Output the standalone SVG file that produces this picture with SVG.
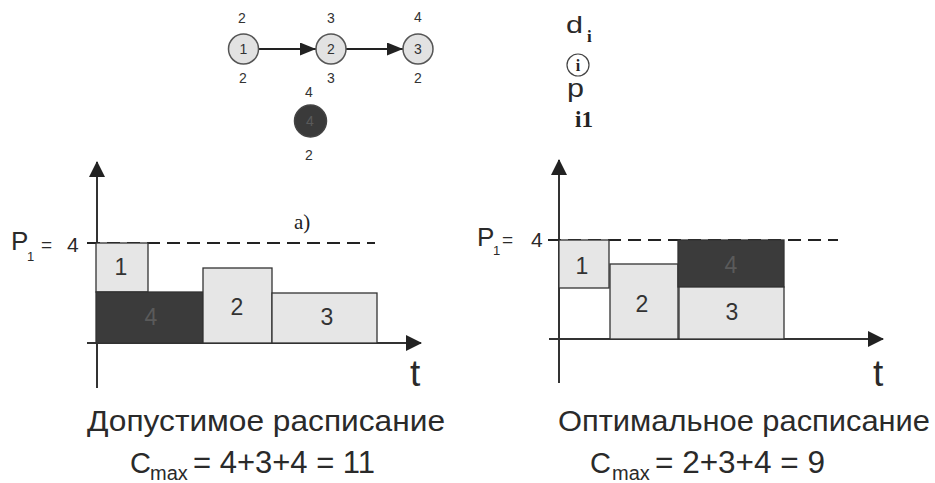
<svg xmlns="http://www.w3.org/2000/svg" width="935" height="483" viewBox="0 0 935 483">
<style>
  .t { font-family: "Liberation Sans", Arial, sans-serif; fill: #2a2a2a; }
  .lbl { font-family: "Liberation Sans", Arial, sans-serif; font-size: 14px; fill: #333; text-anchor: middle; }
  .nd { fill: #e2e2e2; stroke: #555; stroke-width: 1.5; }
  .nd-dark { fill: #3a3a3a; stroke: #444; stroke-width: 1.5; }
  .light { fill: #e6e6e6; stroke: #333; stroke-width: 1.3; }
  .dark { fill: #3b3b3b; stroke: #333; stroke-width: 1.3; }
  .axis { stroke: #333; stroke-width: 2; fill: none; }
  .dash { stroke: #222; stroke-width: 2; stroke-dasharray: 13 7; fill: none; }
  .blab { font-family: "Liberation Sans", Arial, sans-serif; font-size: 23px; fill: #333; text-anchor: middle; }
  .serif { font-family: "Liberation Serif", "Times New Roman", serif; fill: #222; }
</style>
<defs>
  <marker id="arr" markerWidth="16" markerHeight="13" refX="16" refY="6.5" orient="auto" markerUnits="userSpaceOnUse">
    <polygon points="0,0 16,6.5 0,13" fill="#222"/>
  </marker>
  <marker id="ax" markerWidth="16" markerHeight="16" refX="15" refY="8" orient="auto" markerUnits="userSpaceOnUse">
    <polygon points="0,0 16,8 0,16" fill="#222"/>
  </marker>
</defs>

<!-- graph -->
<g id="connectors">
  <line x1="259" y1="49" x2="316" y2="49" stroke="#222" stroke-width="2" marker-end="url(#arr)"/>
  <line x1="346" y1="49" x2="403" y2="49" stroke="#222" stroke-width="2" marker-end="url(#arr)"/>
</g>
<g id="node1">
  <circle class="nd" cx="243.5" cy="49" r="15"/>
  <text class="lbl" x="243.5" y="54" font-size="15">1</text>
  <text class="lbl" x="242" y="23">2</text>
  <text class="lbl" x="243" y="83">2</text>
</g>
<g id="node2">
  <circle class="nd" cx="331" cy="49" r="15"/>
  <text class="lbl" x="331" y="54">2</text>
  <text class="lbl" x="331" y="23">3</text>
  <text class="lbl" x="331" y="83">3</text>
</g>
<g id="node3">
  <circle class="nd" cx="418" cy="49" r="15"/>
  <text class="lbl" x="418" y="54">3</text>
  <text class="lbl" x="418" y="22">4</text>
  <text class="lbl" x="418" y="83">2</text>
</g>
<g id="node4">
  <circle class="nd-dark" cx="310.5" cy="121" r="16"/>
  <text class="lbl" x="310" y="126" style="fill:#5a5a5a">4</text>
  <text class="lbl" x="309" y="97">4</text>
  <text class="lbl" x="309" y="160">2</text>
</g>

<!-- legend -->
<g id="legend">
  <text class="t" x="566" y="33" font-size="24" textLength="17" lengthAdjust="spacingAndGlyphs">d</text>
  <text class="serif" x="587" y="42" font-size="17" font-weight="bold">i</text>
  <circle cx="578" cy="65" r="11" fill="none" stroke="#444" stroke-width="1.2"/>
  <text class="serif" x="578" y="70.5" font-size="16" font-weight="bold" text-anchor="middle">i</text>
  <text class="t" x="567" y="97" font-size="26" textLength="17" lengthAdjust="spacingAndGlyphs">p</text>
  <text class="serif" x="575" y="127" font-size="23" font-weight="bold">i1</text>
</g>

<!-- left chart -->
<g id="left-chart">
  <line class="axis" x1="97" y1="388" x2="97" y2="162" marker-end="url(#ax)"/>
  <line class="axis" x1="87" y1="343" x2="421" y2="343" marker-end="url(#ax)"/>
  <line class="dash" x1="87" y1="243" x2="375" y2="243"/>
  <text class="t" x="11" y="250" font-size="26">P</text>
  <text class="t" x="27" y="261" font-size="13">1</text>
  <text class="t" x="41" y="251" font-size="19">=</text>
  <text class="t" x="67" y="252" font-size="21">4</text>
  <text class="serif" x="294" y="229" font-size="21">a)</text>
  <g id="l-task1"><rect class="light" x="96" y="243" width="52" height="49"/><text class="blab" x="121" y="275">1</text></g>
  <g id="l-task4"><rect class="dark" x="96" y="292" width="107" height="51"/><text class="blab" x="151" y="325" style="fill:#5a5a5a">4</text></g>
  <g id="l-task2"><rect class="light" x="203" y="268" width="69" height="75"/><text class="blab" x="237" y="315">2</text></g>
  <g id="l-task3"><rect class="light" x="272" y="293" width="105" height="50"/><text class="blab" x="327" y="325">3</text></g>
  <text class="t" x="410" y="386" font-size="37">t</text>
</g>

<!-- right chart -->
<g id="right-chart">
  <line class="axis" x1="559" y1="383" x2="559" y2="160" marker-end="url(#ax)"/>
  <line class="axis" x1="549" y1="339" x2="883" y2="339" marker-end="url(#ax)"/>
  <line class="dash" x1="548" y1="240" x2="838" y2="240"/>
  <text class="t" x="477" y="246" font-size="26">P</text>
  <text class="t" x="493" y="255" font-size="13">1</text>
  <text class="t" x="502" y="246" font-size="19">=</text>
  <text class="t" x="531" y="247" font-size="21">4</text>
  <g id="r-task1"><rect class="light" x="559" y="240" width="50" height="48"/><text class="blab" x="582" y="274">1</text></g>
  <g id="r-task2"><rect class="light" x="610" y="264" width="68" height="75"/><text class="blab" x="642" y="312">2</text></g>
  <g id="r-task4"><rect class="dark" x="678" y="240" width="106" height="47"/><text class="blab" x="731" y="273" style="fill:#5a5a5a">4</text></g>
  <g id="r-task3"><rect class="light" x="679" y="287" width="105" height="52"/><text class="blab" x="732" y="320">3</text></g>
  <text class="t" x="873" y="386" font-size="37">t</text>
</g>

<!-- captions -->
<g id="captions">
  <text class="t" x="87" y="431" font-size="30" textLength="358" lengthAdjust="spacingAndGlyphs">Допустимое расписание</text>
  <text class="t" x="130" y="473" font-size="29">C</text>
  <text class="t" x="150" y="480" font-size="20">max</text>
  <text class="t" x="193" y="473" font-size="31" textLength="182" lengthAdjust="spacingAndGlyphs">= 4+3+4 = 11</text>
  <text class="t" x="558" y="431" font-size="30" textLength="372" lengthAdjust="spacingAndGlyphs">Оптимальное расписание</text>
  <text class="t" x="590" y="473" font-size="29">C</text>
  <text class="t" x="612" y="480" font-size="20">max</text>
  <text class="t" x="655" y="473" font-size="31" textLength="170" lengthAdjust="spacingAndGlyphs">= 2+3+4 = 9</text>
</g>
</svg>
